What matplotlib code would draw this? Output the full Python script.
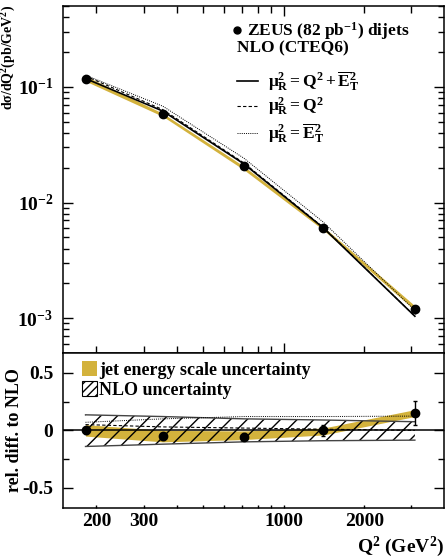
import matplotlib
matplotlib.use("Agg")
import matplotlib.pyplot as plt
from matplotlib.lines import Line2D
from matplotlib.patches import Patch
from matplotlib.ticker import FixedLocator, NullFormatter, LogLocator

plt.rcParams['font.family'] = ['Liberation Serif', 'DejaVu Serif']
plt.rcParams['font.weight'] = 'bold'
plt.rcParams['axes.labelweight'] = 'bold'
plt.rcParams['mathtext.fontset'] = 'custom'
plt.rcParams['mathtext.rm'] = 'Liberation Serif:bold'
plt.rcParams['mathtext.it'] = 'Liberation Serif:bold:italic'
plt.rcParams['mathtext.bf'] = 'Liberation Serif:bold'
plt.rcParams['mathtext.default'] = 'rm'
plt.rcParams['axes.unicode_minus'] = False
plt.rcParams['hatch.linewidth'] = 1.0

# ---- data ----
q2 = [182, 354, 710, 1405, 3090]
xsec = [0.118, 0.0586, 0.0205, 0.00605, 0.00120]
xsec_err = [0.003, 0.0015, 0.0006, 0.00018, 0.00011]
jes_up = [0.124, 0.0590, 0.0206, 0.0062, 0.00128]
jes_dn = [0.112, 0.0555, 0.0192, 0.0058, 0.00117]
nlo = [0.118, 0.0617, 0.0216, 0.00605, 0.00104]
nlo_q2 = [0.124, 0.0635, 0.0220, 0.00611, 0.00104]
nlo_et2 = [0.126, 0.0680, 0.0242, 0.00678, 0.00117]

rel = [0.0, -0.05, -0.055, 0.0, 0.153]
rel_err = [0.03, 0.03, 0.03, 0.05, 0.105]
rel_jes_up = [0.05, 0.0, -0.005, 0.02, 0.18]
rel_jes_dn = [-0.05, -0.10, -0.08, -0.04, 0.12]
rel_nlo_up = [0.135, 0.12, 0.10, 0.09, 0.075]
rel_nlo_dn = [-0.14, -0.12, -0.10, -0.09, -0.085]
rel_q2 = [0.05, 0.03, 0.02, 0.01, 0.0]
rel_et2 = [0.07, 0.10, 0.12, 0.12, 0.124]

xticks_major = [1000]
xticks_minor = [200, 300, 400, 500, 600, 700, 800, 900, 2000, 3000]
xlabels_pos = [200, 300, 1000, 2000]
xlabels = ['200', '300', '1000', '2000']

gold = '#d3b23c'
FS = 12.5

fig = plt.figure(figsize=(4.45, 5.6), dpi=100)
ax1 = fig.add_axes([0.1416, 0.3696, 0.8562, 0.6197])
ax2 = fig.add_axes([0.1416, 0.0934, 0.8562, 0.2762])

for ax in (ax1, ax2):
    ax.set_xscale('log')
    ax.set_xlim(150, 3970)
    for s in ax.spines.values():
        s.set_linewidth(1.1)

# ---- upper panel ----
ax1.set_yscale('log')
ax1.set_ylim(5e-4, 0.5)
ax1.fill_between(q2, jes_dn, jes_up, color=gold, lw=0, zorder=1)
ax1.plot(q2, nlo, color='black', lw=1.2, zorder=3)
ax1.plot(q2, nlo_q2, color='black', lw=0.8, ls=(0, (3, 2)), zorder=3)
ax1.plot(q2, nlo_et2, color='black', lw=0.7, ls=(0, (1, 1.2)), zorder=3)
ax1.errorbar(q2, xsec, yerr=xsec_err, fmt='o', color='black', ms=6,
             elinewidth=1, capsize=0, zorder=5)

ax1.xaxis.set_major_locator(FixedLocator(xticks_major))
ax1.xaxis.set_minor_locator(FixedLocator(xticks_minor))
ax1.xaxis.set_major_formatter(NullFormatter())
ax1.xaxis.set_minor_formatter(NullFormatter())
ax1.set_yticks([1e-3, 1e-2, 1e-1])
ax1.set_yticklabels([r'$10^{-3}$', r'$10^{-2}$', r'$10^{-1}$'])
ax1.yaxis.set_minor_locator(LogLocator(base=10, subs=range(2, 10)))
ax1.yaxis.set_minor_formatter(NullFormatter())
ax1.tick_params(which='both', direction='in', top=True, right=True,
                labelsize=14, width=1.0)
ax1.tick_params(which='major', length=7, pad=7)
ax1.tick_params(which='minor', length=4.5)
ax1.tick_params(axis='x', which='minor', length=5)
ax1.set_ylabel(r'd$\sigma$/dQ$^2$(pb/GeV$^2$)', fontsize=10)
ax1.yaxis.set_label_coords(-0.118, 0.852)

# legend / texts upper
h_data = Line2D([], [], marker='o', ls='none', color='black', ms=5)
leg_a = ax1.legend([h_data], [r'ZEUS (82 pb$^{-1}$) dijets'], loc='center left',
                   bbox_to_anchor=(0.448, 0.928), frameon=False, fontsize=FS,
                   handlelength=0.4, handletextpad=0.35, borderpad=0,
                   borderaxespad=0)
ax1.add_artist(leg_a)
ax1.text(0.457, 0.878, 'NLO (CTEQ6)', transform=ax1.transAxes, fontsize=FS,
         va='center', ha='left')
h_l1 = Line2D([], [], color='black', lw=1.2)
h_l2 = Line2D([], [], color='black', lw=0.8, ls=(0, (3, 2)))
h_l3 = Line2D([], [], color='black', lw=0.7, ls=(0, (1, 1.2)))
ax1.legend([h_l1, h_l2, h_l3],
           [r'$\mu^2_\mathrm{R} = \mathrm{Q}^2 + \overline{\mathrm{E}}^2_\mathrm{T}$',
            r'$\mu^2_\mathrm{R} = \mathrm{Q}^2$',
            r'$\mu^2_\mathrm{R} = \overline{\mathrm{E}}^2_\mathrm{T}$'],
           loc='center left', bbox_to_anchor=(0.457, 0.708), frameon=False,
           fontsize=FS, handlelength=1.2, handletextpad=0.55, borderpad=0,
           borderaxespad=0, labelspacing=0.2)

# ---- lower panel ----
ax2.set_ylim(-0.672, 0.672)
ax2.fill_between(q2, rel_jes_dn, rel_jes_up, color=gold, lw=0, zorder=1)
ax2.fill_between(q2, rel_nlo_dn, rel_nlo_up, facecolor='none', edgecolor='black',
                 hatch='//', lw=0, zorder=2)
ax2.plot(q2, rel_nlo_up, color='#444444', lw=1.0, zorder=3)
ax2.plot(q2, rel_nlo_dn, color='#444444', lw=1.0, zorder=3)
ax2.axhline(0, color='black', lw=1.1, zorder=3)
ax2.plot(q2, rel_q2, color='black', lw=0.8, ls=(0, (3, 2)), zorder=3)
ax2.plot(q2, rel_et2, color='black', lw=0.7, ls=(0, (1, 1.2)), zorder=3)
ax2.errorbar(q2, rel, yerr=rel_err, fmt='o', color='black', ms=6,
             elinewidth=1, capsize=1.5, zorder=5)

ax2.set_xticks(xlabels_pos)
ax2.set_xticklabels(xlabels)
ax2.xaxis.set_minor_locator(FixedLocator([400, 500, 600, 700, 800, 900, 3000]))
ax2.xaxis.set_minor_formatter(NullFormatter())
ax2.set_yticks([-0.5, 0, 0.5])
ax2.set_yticklabels(['-0.5', '0', '0.5'])
ax2.yaxis.set_minor_locator(FixedLocator([-0.25, 0.25]))
ax2.tick_params(which='both', direction='in', right=True, labelsize=14, width=1.0)
ax2.tick_params(axis='x', which='both', length=2, pad=4)
ax2.tick_params(axis='y', which='major', length=7, pad=7)
ax2.tick_params(axis='y', which='minor', length=4.5)
ax2.set_ylabel('rel. diff. to NLO', fontsize=13)
ax2.yaxis.set_label_coords(-0.105, 0.5)
fig.text(0.998, 0.014, r'Q$^2$ (GeV$^2$)', fontsize=14, ha='right',
         va='baseline', fontweight='bold')

ax2.legend([Patch(facecolor=gold, lw=0),
            Patch(facecolor='white', edgecolor='black', hatch='////', lw=0.8)],
           ['jet energy scale uncertainty', 'NLO uncertainty'],
           loc='center left', bbox_to_anchor=(0.05, 0.825), frameon=False,
           fontsize=13, handlelength=0.83, handleheight=0.83, handletextpad=0.12,
           borderpad=0, borderaxespad=0, labelspacing=0.15)

fig.savefig('out.png', dpi=100)
